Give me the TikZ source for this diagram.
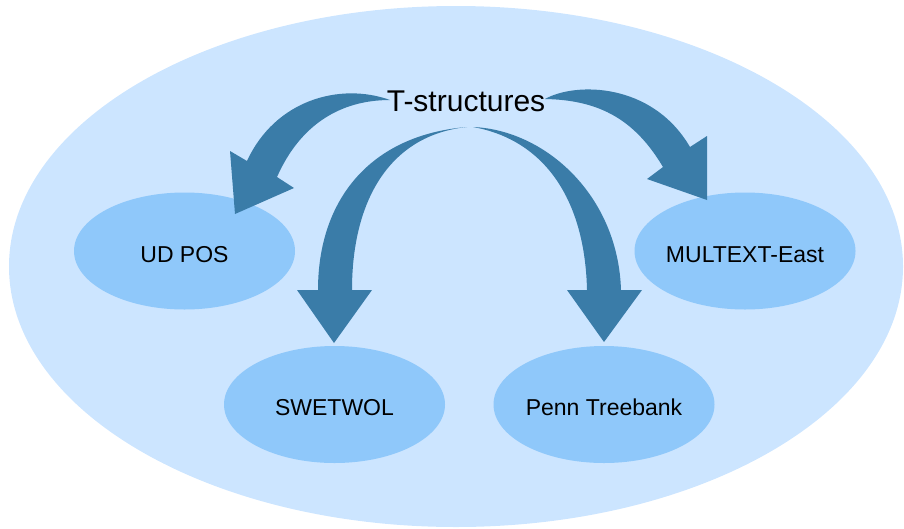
\documentclass[tikz,border=0pt]{standalone}
\usepackage{fontspec}
\setmainfont{Liberation Sans}
\usetikzlibrary{shapes.geometric}
\definecolor{bigbg}{HTML}{CCE5FF}
\definecolor{smallbg}{HTML}{8FC8FA}
\definecolor{arrowc}{HTML}{3A7CA8}
\newcommand{\elltext}[1]{\makebox[0pt]{\raisebox{-11pt}[0pt][0pt]{#1}}}
\begin{document}
\begin{tikzpicture}[x=1pt,y=-1pt,
  ell/.style={ellipse, fill=smallbg, minimum width=221pt, minimum height=117pt, inner sep=0pt, font=\fontsize{23}{27}\selectfont},
  bigarrow/.style={fill=arrowc, draw=none},
  title/.style={inner sep=0pt, font=\fontsize{30}{36}\selectfont}]
\useasboundingbox (0,0) rectangle (904,528);
\fill[bigbg] (456,266.5) ellipse [x radius=447, y radius=260.5];

\node[ell] (ud)    at (184.5,251) {\elltext{UD POS}};
\node[ell] (mte)   at (745,251)   {\elltext{MULTEXT-East}};
\node[ell] (swe)   at (334.5,404.5) {\elltext{SWETWOL}};
\node[ell] (penn)  at (604,404.5) {\elltext{Penn Treebank}};

% arrow to UD POS
\fill[bigarrow] (390,100) .. controls (340,82) and (275,100) .. (247,161)
  -- (230,151) -- (235,214) -- (294,188) -- (277,177)
  .. controls (300,125) and (340,100) .. (390,100) -- cycle;
% arrow to MULTEXT-East
\fill[bigarrow] (545,99) .. controls (575,82) and (652,82) .. (690,147)
  -- (707,136) -- (707,200) -- (647,179) -- (663,167)
  .. controls (635,120) and (600,100) .. (545,99) -- cycle;
% arrow to SWETWOL
\fill[bigarrow] (467,127) .. controls (370,135) and (318,200) .. (318,290)
  -- (297,290) -- (334,343) -- (372,290) -- (352,290)
  .. controls (352,200) and (390,135) .. (467,127) -- cycle;
% arrow to Penn Treebank
\fill[bigarrow] (473,127) .. controls (545,130) and (618,195) .. (621,290)
  -- (642,290) -- (604,342) -- (567,290) -- (587,290)
  .. controls (585,200) and (545,140) .. (473,127) -- cycle;

\node[title] (ts) at (466,101) {T-structures};
\end{tikzpicture}
\end{document}
